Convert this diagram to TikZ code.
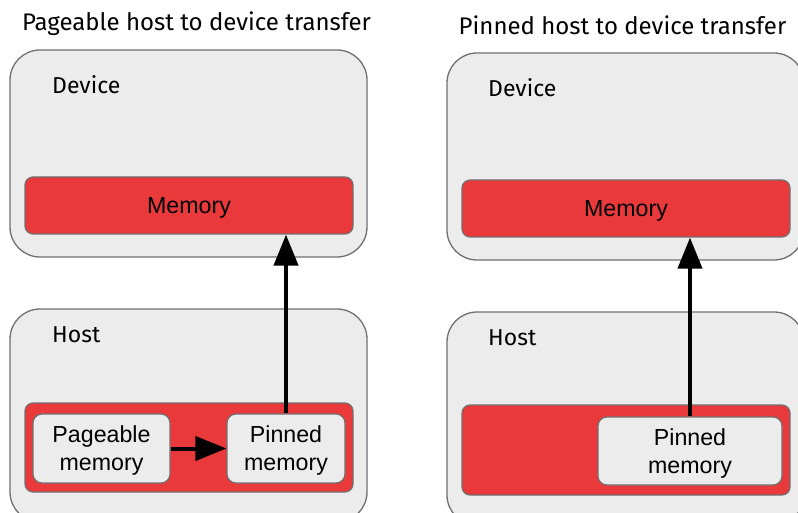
\documentclass[tikz,border=0pt]{standalone}
\usepackage{fontspec}
\setmainfont{Fira Sans}
\newfontfamily\boxfont{Liberation Sans}
\usetikzlibrary{arrows.meta}
\definecolor{panelgray}{HTML}{ECECEC}
\definecolor{edgegray}{HTML}{707070}
\definecolor{memred}{HTML}{EA393B}
\tikzset{
  panel/.style={draw=edgegray, line width=1.3pt, fill=panelgray, rounded corners=30pt, inner sep=0pt},
  boxtext/.style={font=\boxfont\fontsize{23.2}{28}\selectfont, align=center, text depth=0pt},
  redbox/.style={draw=edgegray, line width=1.2pt, fill=memred, rounded corners=8pt, inner sep=0pt, boxtext, text height=16.6pt},
  membox/.style={draw=edgegray, line width=1.2pt, fill=panelgray, rounded corners=9pt, inner sep=0pt, boxtext, text height=44.6pt},
  paneltitle/.style={font=\fontsize{24}{28}\selectfont, inner sep=0pt},
  panellabel/.style={font=\fontsize{23}{28}\selectfont, inner sep=0pt, anchor=west},
  arr/.style={line width=4pt, -{Triangle[length=31pt,width=24pt]}}
}
\begin{document}
\begin{tikzpicture}[x=1pt, y=-1pt]
  \useasboundingbox (0,0) rectangle (798,513);
  \clip (0,0) rectangle (798,513);
  \fill[white] (0,0) rectangle (798,513);

  % left: pageable transfer
  \node[paneltitle] (t1) at (196.5,23.5) {Pageable host to device transfer};
  \node[panel, minimum width=357pt, minimum height=207pt] (dev1) at (188.5,153.5) {};
  \node[panellabel] (dl1) at (52,85) {Device};
  \node[redbox, minimum width=328pt, minimum height=57pt] (mem1) at (189,205.5) {Memory};
  \node[panel, minimum width=357pt, minimum height=213pt] (host1) at (188.5,415.5) {};
  \node[panellabel] (hl1) at (52,335) {Host};
  \node[redbox, minimum width=328pt, minimum height=89pt] (hmem1) at (189,447.5) {};
  \node[membox, minimum width=137pt, minimum height=69pt] (page1) at (101.5,448.5) {Pageable\\memory};
  \node[membox, minimum width=118pt, minimum height=69pt] (pin1) at (286,448.5) {Pinned\\memory};
  \draw[arr] (page1.east) -- (pin1.west);
  \draw[arr] (pin1.north) -- (pin1.north |- mem1.south);

  % right: pinned transfer
  \node[paneltitle] (t2) at (622.5,25.5) {Pinned host to device transfer};
  \node[panel, minimum width=357pt, minimum height=207pt] (dev2) at (625.5,156.5) {};
  \node[panellabel] (dl2) at (488,88) {Device};
  \node[redbox, minimum width=328pt, minimum height=57pt] (mem2) at (626,208.5) {Memory};
  \node[panel, minimum width=357pt, minimum height=213pt] (host2) at (625.5,418.5) {};
  \node[panellabel] (hl2) at (488,338) {Host};
  \node[redbox, minimum width=328pt, minimum height=90pt] (hmem2) at (626,450) {};
  \node[membox, minimum width=184pt, minimum height=68pt] (pin2) at (690,451) {Pinned\\memory};
  \draw[arr] (pin2.north) -- (pin2.north |- mem2.south);
\end{tikzpicture}
\end{document}
